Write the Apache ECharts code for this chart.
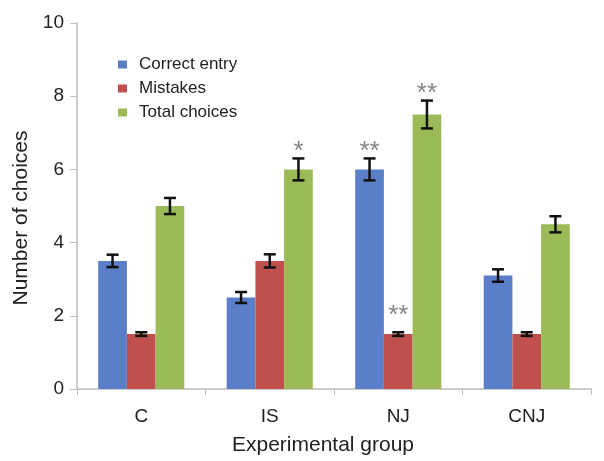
<!DOCTYPE html>
<html>
<head>
<meta charset="utf-8">
<script src="https://cdn.jsdelivr.net/npm/echarts@6/dist/echarts.min.js"></script>
<style>
  html, body { margin: 0; padding: 0; background: #fff; }
  #chart { width: 604px; height: 461px; }
</style>
</head>
<body>
<div id="chart"></div>
<script>
// Groups and per-group means
const categories = ['C', 'IS', 'NJ', 'CNJ'];
const seriesNames = ['Correct entry', 'Mistakes', 'Total choices'];
const correctEntry = [3.5, 2.5, 6.0, 3.1];
const mistakes = [1.5, 3.5, 1.5, 1.5];
const totalChoices = [5.0, 6.0, 7.5, 4.5];
// Error bar half-widths
const errCorrect = [0.17, 0.15, 0.3, 0.17];
const errMistakes = [0.05, 0.18, 0.05, 0.05];
const errTotal = [0.22, 0.3, 0.38, 0.22];
// Significance marks above the error bars
const sigCorrect = ['', '', '**', ''];
const sigMistakes = ['', '', '**', ''];
const sigTotal = ['', '*', '**', ''];
const yTicks = [0, 2, 4, 6, 8, 10];

const FONT = '"Liberation Sans", Arial, sans-serif';
const colors = ['#5a7ec7', '#c0504d', '#9bbb59'];
const means = [correctEntry, mistakes, totalChoices];
const errs = [errCorrect, errMistakes, errTotal];
const sigs = [sigCorrect, sigMistakes, sigTotal];
const sigLift = [3, 12, 3];   // extra gap (px) between whisker top and its stars

const categoryGap = 0.33;   // fraction of the band left empty
const nBars = 3;

function errorSeries(k) {
  const data = categories.map((c, i) => [i, means[k][i], errs[k][i], sigs[k][i]]);
  return {
    type: 'custom',
    name: seriesNames[k] + ' error',
    z: 10,
    silent: true,
    data: data,
    encode: { x: 0, y: 1 },
    renderItem: function (params, api) {
      const i = api.value(0);
      const m = api.value(1);
      const e = api.value(2);
      const band = api.size([1, 0])[0];
      const barW = band * (1 - categoryGap) / nBars;
      const offset = (k - (nBars - 1) / 2) * barW;
      const top = api.coord([i, m + e]);
      const bot = api.coord([i, m - e]);
      const x = top[0] + offset;
      const cap = 6;
      const style = { stroke: '#111', lineWidth: 2.5 };
      const children = [
        { type: 'line', shape: { x1: x, y1: top[1], x2: x, y2: bot[1] }, style: style },
        { type: 'line', shape: { x1: x - cap, y1: top[1], x2: x + cap, y2: top[1] }, style: style },
        { type: 'line', shape: { x1: x - cap, y1: bot[1], x2: x + cap, y2: bot[1] }, style: style }
      ];
      const s = data[params.dataIndex][3];
      if (s) {
        children.push({
          type: 'text',
          style: {
            text: s, x: x, y: top[1] + 9 - sigLift[k],
            align: 'center', verticalAlign: 'bottom',
            font: '26px ' + FONT,
            fill: '#858585'
          }
        });
      }
      return { type: 'group', children: children };
    }
  };
}

const barSeries = seriesNames.map((name, k) => ({
  type: 'bar',
  name: name,
  data: means[k],
  barGap: '0%',
  barCategoryGap: (categoryGap * 100) + '%',
  itemStyle: { color: colors[k] }
}));

const chart = echarts.init(document.getElementById('chart'), null, { renderer: 'canvas' });
chart.setOption({
  animation: false,
  backgroundColor: '#fff',
  textStyle: { fontFamily: FONT },
  grid: { left: 77, right: 13, top: 23, bottom: 68, containLabel: false },
  legend: {
    data: seriesNames,
    orient: 'vertical',
    left: 113, top: 51,
    itemWidth: 9, itemHeight: 8, itemGap: 7,
    icon: 'rect',
    textStyle: { fontSize: 17, color: '#222', padding: [0, 0, 0, 7] }
  },
  xAxis: {
    type: 'category',
    data: categories,
    name: 'Experimental group',
    nameLocation: 'middle',
    nameGap: 46,
    nameTextStyle: { fontSize: 21, color: '#222', padding: [0, 22, 0, 0] },
    axisLine: { lineStyle: { color: '#bdbdbd', width: 1.5 } },
    axisTick: { show: true, length: 6, lineStyle: { color: '#bdbdbd' } },
    axisLabel: { fontSize: 19, color: '#222', margin: 18 }
  },
  yAxis: {
    type: 'value',
    min: yTicks[0], max: yTicks[yTicks.length - 1], interval: 2,
    name: 'Number of choices',
    nameLocation: 'middle',
    nameGap: 45,
    nameTextStyle: { fontSize: 21, color: '#222', padding: [0, 24, 0, 0] },
    axisLine: { show: true, lineStyle: { color: '#bdbdbd', width: 1.5 } },
    axisTick: { show: true, length: 7, lineStyle: { color: '#bdbdbd' } },
    axisLabel: { fontSize: 19, color: '#222', margin: 13 },
    splitLine: { show: false }
  },
  series: barSeries.concat([0, 1, 2].map(errorSeries))
});
</script>
</body>
</html>
